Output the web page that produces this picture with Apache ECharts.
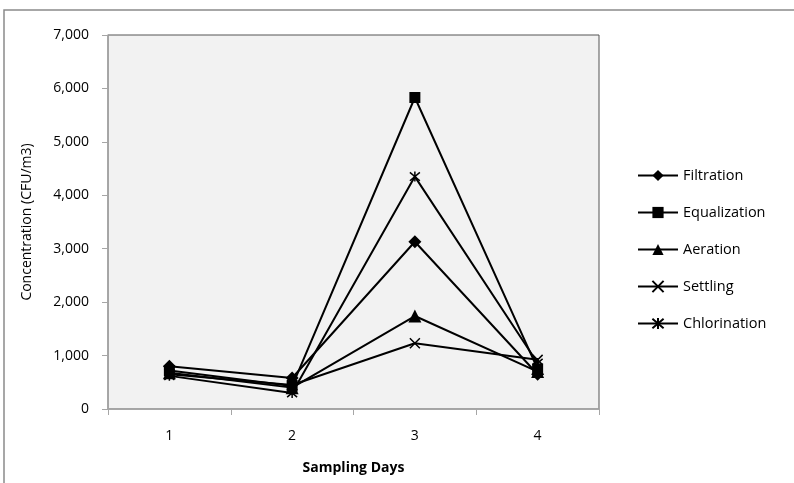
<!DOCTYPE html>
<html>
<head>
<meta charset="utf-8">
<script src="https://cdn.jsdelivr.net/npm/echarts@6/dist/echarts.min.js"></script>
<style>html,body{margin:0;padding:0;background:#fff}#c{width:794px;height:483px}</style>
</head>
<body>
<div id="c"></div>
<script>
var days = ['1', '2', '3', '4'];
var filtration = [800, 580, 3130, 650];
var equalization = [720, 430, 5830, 750];
var aeration = [680, 400, 1740, 700];
var settling = [650, 450, 1230, 920];
var chlorination = [620, 300, 4350, 860];
var yTicks = [0, 1000, 2000, 3000, 4000, 5000, 6000, 7000];

var FONT = '"Open Sans", "Noto Sans", sans-serif';
var crossPath = 'path://M0,0L10,10M10,0L0,10';
var starPath = 'path://M0,0L10,10M10,0L0,10M5,-1L5,11';

function mk(name, data, symbol, size, stroked) {
  return {
    name: name, type: 'line', data: data, symbol: symbol, symbolSize: size,
    lineStyle: {color: '#000', width: 2},
    itemStyle: stroked ? {color: '#000', borderColor: '#000', borderWidth: 1.5} : {color: '#000'},
    emphasis: {disabled: true},
    z: 3
  };
}

var chart = echarts.init(document.getElementById('c'), null, {renderer: 'canvas'});
chart.setOption({
  animation: false,
  backgroundColor: '#fff',
  graphic: [{
    type: 'rect', shape: {x: 4, y: 10, width: 820, height: 500},
    style: {fill: 'none', stroke: '#8a8a8a', lineWidth: 1.5}, z: -1
  }],
  grid: {left: 108, right: 195, top: 35, bottom: 74, show: true,
         backgroundColor: '#f2f2f2', borderColor: '#555', borderWidth: 1},
  legend: {
    orient: 'vertical', left: 632, top: 163, itemWidth: 40, itemHeight: 14, itemGap: 22,
    textStyle: {fontFamily: FONT, fontSize: 14.5, color: '#000'},
    data: ['Filtration', 'Equalization', 'Aeration', 'Settling', 'Chlorination']
  },
  xAxis: {
    type: 'category', data: days, boundaryGap: true,
    name: 'Sampling Days', nameLocation: 'middle', nameGap: 52,
    nameTextStyle: {fontFamily: FONT, fontSize: 14, fontWeight: 'bold', color: '#000'},
    axisLine: {lineStyle: {color: '#a6a6a6', width: 1.5}},
    axisTick: {show: true, length: 6, lineStyle: {color: '#a6a6a6'}},
    axisLabel: {fontFamily: FONT, fontSize: 14, color: '#000', margin: 20},
    splitLine: {show: false}
  },
  yAxis: {
    type: 'value', min: 0, max: 7000, interval: 1000,
    name: 'Concentration (CFU/m3)', nameLocation: 'middle', nameGap: 74, nameRotate: 90,
    nameTextStyle: {fontFamily: FONT, fontSize: 14, color: '#000'},
    axisLine: {show: true, lineStyle: {color: '#a6a6a6', width: 1.5}},
    axisTick: {show: true, length: 6, lineStyle: {color: '#a6a6a6'}},
    axisLabel: {fontFamily: FONT, fontSize: 14, color: '#000', margin: 19,
      formatter: function (v) { return yTicks.indexOf(v) >= 0 ? v.toLocaleString('en-US') : ''; }},
    splitLine: {show: false}
  },
  series: [
    mk('Filtration', filtration, 'diamond', 13, false),
    mk('Equalization', equalization, 'rect', 11, false),
    mk('Aeration', aeration, 'triangle', 13, false),
    mk('Settling', settling, crossPath, 10, true),
    mk('Chlorination', chlorination, starPath, 10, true)
  ]
});
</script>
</body>
</html>
